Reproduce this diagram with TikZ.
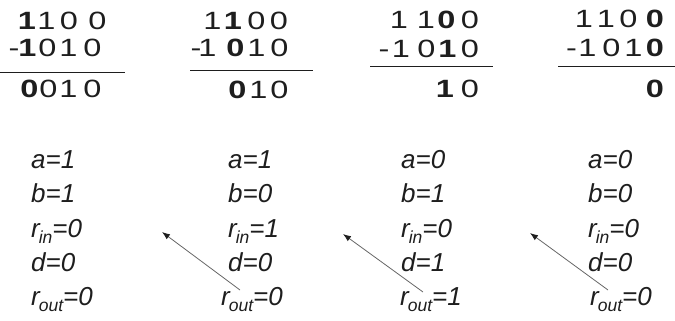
\documentclass[tikz,border=0pt]{standalone}
\usepackage{fontspec}
\setmainfont{Liberation Sans}
\newfontfamily\dgfont[FakeStretch=1.3]{Liberation Sans}
\usetikzlibrary{arrows.meta}
\definecolor{ink}{HTML}{1E1E1E}
\definecolor{arr}{HTML}{666666}
\newcommand\sbs[1]{\kern-1pt\raisebox{-6pt}{\fontsize{17.5}{17.5}\selectfont #1}}
\newcommand\dgt[4]{\node[dig] (#1) at (#2,-#3) {#4};}
\newcommand\dgb[4]{\node[dig,font=\dgfont\bfseries\fontsize{25}{28}\selectfont] (#1) at (#2,-#3) {#4};}
\newcommand\lbl[4]{\node[lab] (#1) at (#2,-#3) {#4};}
\begin{document}
\begin{tikzpicture}[x=1pt,y=1pt,
  dig/.style={inner sep=0pt,anchor=base,text=ink,font=\dgfont\fontsize{25}{28}\selectfont},
  lab/.style={inner sep=0pt,anchor=base west,text=ink,font=\itshape\fontsize{26}{28}\selectfont},
  rule/.style={draw=ink,line width=1pt},
  back/.style={draw=arr,line width=0.8pt,-{Latex[length=8pt,width=6pt,color=ink]}}]
\useasboundingbox (0,0) rectangle (675,-321);
% ---- column 1
\dgb{a1}{27}{30}{1}\dgt{a2}{46.5}{30}{1}\dgt{a3}{69}{30}{0}\dgt{a4}{97.5}{30}{0}
\dgt{am}{14}{57}{-}\dgb{b1}{27.5}{57}{1}\dgt{b2}{47.5}{57}{0}\dgt{b3}{68.5}{57}{1}\dgt{b4}{92.5}{57}{0}
\dgb{c1}{29.5}{98}{0}\dgt{c2}{48.5}{98}{0}\dgt{c3}{68.5}{98}{1}\dgt{c4}{92.5}{98}{0}
\coordinate (l1a) at (0,-73); \coordinate (l1b) at (125,-73);
\draw[rule] (l1a) -- (l1b);
% ---- column 2
\dgt{d1}{212.5}{30}{1}\dgb{d2}{233}{30}{1}\dgt{d3}{256.5}{30}{0}\dgt{d4}{279}{30}{0}
\dgt{em}{196}{57}{-}\dgt{e1}{207.5}{57}{1}\dgb{e2}{235.5}{57}{0}\dgt{e3}{256.5}{57}{1}\dgt{e4}{279.5}{57}{0}
\dgb{f2}{237.5}{99}{0}\dgt{f3}{258.5}{99}{1}\dgt{f4}{279.5}{99}{0}
\coordinate (l2a) at (190,-71); \coordinate (l2b) at (313,-71);
\draw[rule] (l2a) -- (l2b);
% ---- column 3
\dgt{g1}{399}{29}{1}\dgt{g2}{426}{29}{1}\dgb{g3}{446.5}{29}{0}\dgt{g4}{470}{29}{0}
\dgt{hm}{384}{58}{-}\dgt{h1}{401}{58}{1}\dgt{h2}{426.5}{58}{0}\dgb{h3}{447.5}{58}{1}\dgt{h4}{470}{58}{0}
\dgb{i3}{445}{97}{1}\dgt{i4}{470}{97}{0}
\coordinate (l3a) at (370,-67); \coordinate (l3b) at (493,-67);
\draw[rule] (l3a) -- (l3b);
% ---- column 4
\dgt{j1}{584}{28}{1}\dgt{j2}{606}{28}{1}\dgt{j3}{628.5}{28}{0}\dgb{j4}{655}{28}{0}
\dgt{km}{571.5}{57}{-}\dgt{k1}{587.5}{57}{1}\dgt{k2}{611.5}{57}{0}\dgt{k3}{633.5}{57}{1}\dgb{k4}{655}{57}{0}
\dgb{m4}{655}{97}{0}
\coordinate (l4a) at (558,-67); \coordinate (l4b) at (675,-67);
\draw[rule] (l4a) -- (l4b);
% ---- labels
\lbl{pa}{31}{168}{a=1}\lbl{pb}{31}{202}{b=1}\lbl{pr}{31}{237}{r\sbs{in}=0}\lbl{pd}{31}{271}{d=0}\lbl{po}{31}{305}{r\sbs{out}=0}
\lbl{qa}{228}{168}{a=1}\lbl{qb}{228}{202}{b=0}\lbl{qr}{228}{237}{r\sbs{in}=1}\lbl{qd}{228}{271}{d=0}\lbl{qo}{221}{305}{r\sbs{out}=0}
\lbl{sa}{401}{168}{a=0}\lbl{sb}{401}{202}{b=1}\lbl{sr}{401}{237}{r\sbs{in}=0}\lbl{sd}{401}{271}{d=1}\lbl{so}{400}{305}{r\sbs{out}=1}
\lbl{ta}{588}{168}{a=0}\lbl{tb}{588}{202}{b=0}\lbl{tr}{588}{237}{r\sbs{in}=0}\lbl{td}{588}{271}{d=0}\lbl{to}{590}{305}{r\sbs{out}=0}
% ---- arrows
\coordinate (t1) at (240,-290); \coordinate (h1) at (162,-232);
\coordinate (t2) at (423,-292); \coordinate (h2) at (343,-234);
\coordinate (t3) at (608,-290); \coordinate (h3) at (530,-233);
\draw[back] (t1) -- (h1);
\draw[back] (t2) -- (h2);
\draw[back] (t3) -- (h3);
\end{tikzpicture}
\end{document}
